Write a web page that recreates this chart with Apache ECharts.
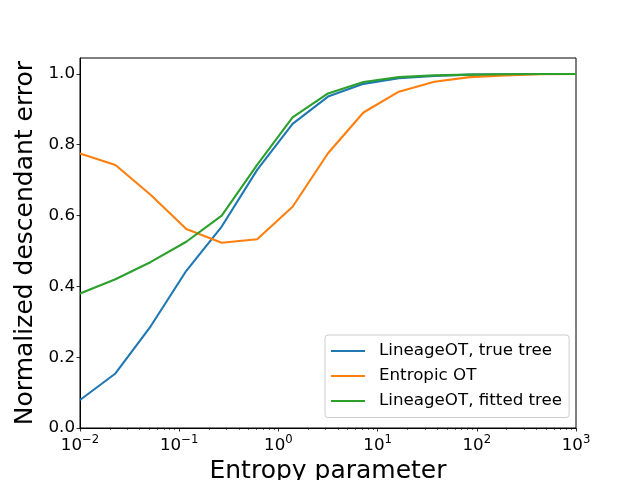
<!DOCTYPE html>
<html>
<head>
<meta charset="utf-8">
<script src="https://cdn.jsdelivr.net/npm/echarts@6/dist/echarts.min.js"></script>
<style>html,body{margin:0;padding:0;background:#fff;}#c{width:640px;height:480px;}</style>
</head>
<body>
<div id="c"></div>
<script>
const entropy = [0.01, 0.02276, 0.05179, 0.1179, 0.2683, 0.6105, 1.3895, 3.1623, 7.197, 16.38, 37.28, 84.83, 193.1, 439.4, 1000];
const trueTree = [0.079, 0.154, 0.288, 0.444, 0.569, 0.729, 0.859, 0.936, 0.972, 0.988, 0.994, 0.998, 0.999, 1.0, 1.0];
const entropicOT = [0.775, 0.743, 0.658, 0.562, 0.523, 0.533, 0.625, 0.776, 0.891, 0.950, 0.978, 0.991, 0.996, 0.999, 1.0];
const fittedTree = [0.380, 0.420, 0.469, 0.526, 0.600, 0.743, 0.877, 0.945, 0.977, 0.991, 0.996, 0.998, 0.999, 1.0, 1.0];
const seriesNames = ['LineageOT, true tree', 'Entropic OT', 'LineageOT, fitted tree'];
const xMajorTicks = [0.01, 0.1, 1, 10, 100, 1000];
const yTicks = [0, 0.2, 0.4, 0.6, 0.8, 1.0];
const xMinorTicks = [];
for (let d = -2; d < 3; d++) for (let k = 2; k <= 9; k++) xMinorTicks.push(+(k * Math.pow(10, d)).toPrecision(3));

const colors = ['#1f77b4', '#ff7f0e', '#2ca02c'];
const font = 'DejaVu Sans';
function pairs(ys) { return entropy.map((x, i) => [x, ys[i]]); }

const chart = echarts.init(document.getElementById('c'), null, {renderer: 'canvas'});
chart.setOption({
  animation: false,
  backgroundColor: '#ffffff',
  grid: {left: 80, right: 64, top: 58, bottom: 52, show: true, borderColor: '#000', borderWidth: 1, backgroundColor: 'transparent', containLabel: false, outerBoundsMode: 'none'},
  legend: {
    orient: 'vertical', left: 325, top: 335,
    data: seriesNames,
    icon: 'rect', itemWidth: 34, itemHeight: 2, itemGap: 8,
    padding: [7.5, 7, 8, 6],
    backgroundColor: 'rgba(255,255,255,0.8)', borderColor: '#cccccc', borderWidth: 1, borderRadius: 3,
    textStyle: {fontFamily: font, fontSize: 16.7, color: '#000', padding: [0, 0, 0, 9]}
  },
  xAxis: [{
    type: 'log', logBase: 10, min: 0.01, max: 1000,
    name: 'Entropy parameter', nameLocation: 'middle', nameGap: 31,
    nameTextStyle: {fontFamily: font, fontSize: 25, color: '#000'},
    axisLine: {show: true, lineStyle: {color: '#000', width: 1}},
    axisTick: {show: true, inside: false, length: 3.5, lineStyle: {color: '#000', width: 0.8}, customValues: xMajorTicks},
    axisLabel: {
      customValues: xMajorTicks, margin: 6, color: '#000',
      formatter: function (v) {
        const e = Math.round(Math.log10(v));
        return '{b|10}{s|' + (e < 0 ? '\u2212' + (-e) : e) + '}';
      },
      rich: {
        b: {fontFamily: font, fontSize: 16.7, color: '#000', verticalAlign: 'bottom', lineHeight: 20},
        s: {fontFamily: font, fontSize: 11.7, color: '#000', verticalAlign: 'bottom', lineHeight: 20, padding: [0, 0, 8, 0]}
      }
    },
    splitLine: {show: false}
  }, {
    type: 'log', logBase: 10, min: 0.01, max: 1000, position: 'bottom',
    axisLine: {show: false},
    axisTick: {show: true, inside: false, length: 2, lineStyle: {color: '#000', width: 0.6}, customValues: xMinorTicks},
    axisLabel: {show: false},
    splitLine: {show: false}
  }],
  yAxis: {
    type: 'value', min: 0, max: 1.045,
    name: 'Normalized descendant error', nameLocation: 'middle', nameGap: 41, nameRotate: 90,
    nameTextStyle: {fontFamily: font, fontSize: 25, color: '#000'},
    axisLine: {show: true, lineStyle: {color: '#000', width: 1}},
    axisTick: {show: true, inside: false, length: 3.5, lineStyle: {color: '#000', width: 0.8}, customValues: yTicks},
    axisLabel: {customValues: yTicks, margin: 5, fontFamily: font, fontSize: 16.7, color: '#000', formatter: v => v.toFixed(1)},
    splitLine: {show: false}
  },
  series: [trueTree, entropicOT, fittedTree].map((ys, i) => ({
    name: seriesNames[i], type: 'line', xAxisIndex: 0, data: pairs(ys),
    showSymbol: false, symbol: 'none', smooth: false,
    lineStyle: {color: colors[i], width: 2.1}, itemStyle: {color: colors[i]},
    z: 2 + i
  }))
});
</script>
</body>
</html>
